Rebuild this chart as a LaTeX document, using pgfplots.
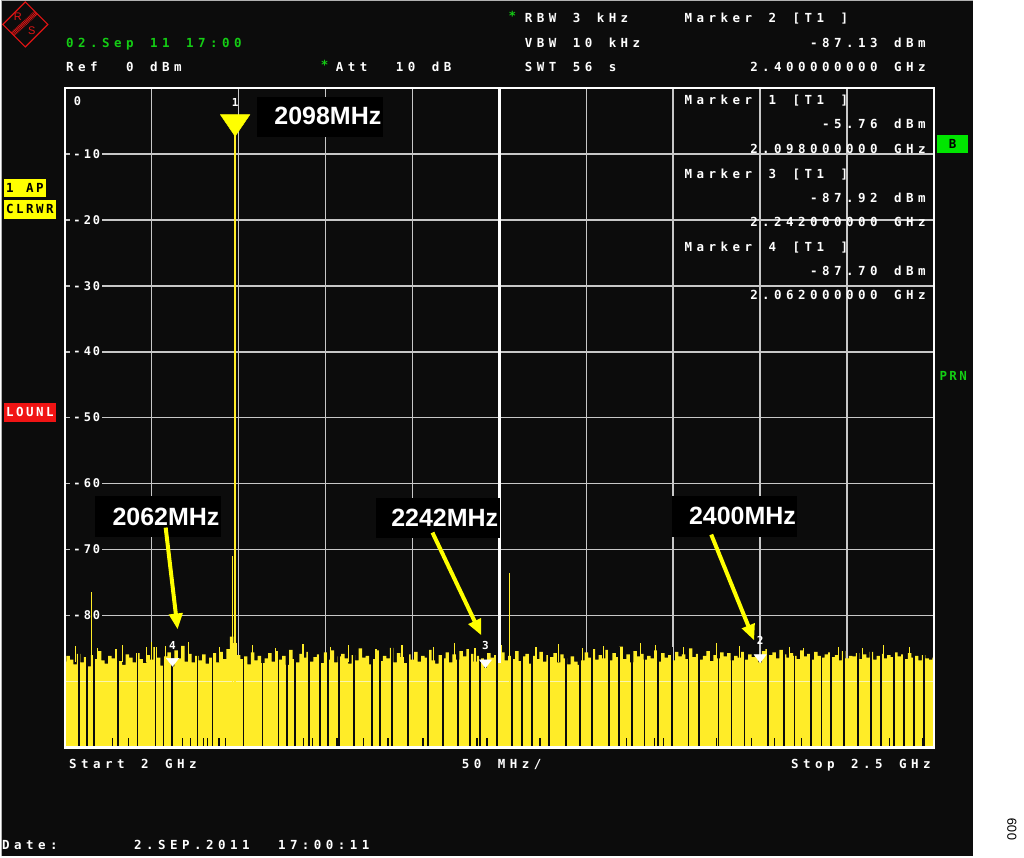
\documentclass[border=0pt]{standalone}
\usepackage{pgfplots}
\pgfplotsset{compat=1.18}
\usepackage{fontspec}
\setmainfont{Liberation Sans}
\usetikzlibrary{arrows.meta}
\newfontfamily\instr{DejaVu Sans Mono Bold}
\newfontfamily\labf{Liberation Sans Bold}
\definecolor{bg}{RGB}{12,12,12}
\definecolor{trace}{RGB}{255,236,40}
\definecolor{ann}{RGB}{255,255,0}
\definecolor{grn}{RGB}{20,205,20}
\definecolor{bgrn}{RGB}{0,230,0}
\definecolor{gridc}{RGB}{200,200,200}
\definecolor{rsred}{RGB}{225,20,20}
\definecolor{faint}{RGB}{250,245,175}
\definecolor{lred}{RGB}{240,20,20}
\makeatletter
\newcommand\mono[2]{\def\@cw{#1}\@tfor\@c:=#2\do{\makebox[\@cw][c]{\@c}}}
\makeatother
\tikzset{
  it/.style={font=\instr\fontsize{12.5}{15}\selectfont, text=white, inner sep=0pt, text height=9pt, text depth=0pt},
  tl/.style={font=\instr\fontsize{12}{14}\selectfont, text=white, fill=bg, inner xsep=1pt, inner ysep=2pt, text height=8.5pt, text depth=0pt, anchor=west},
  lab/.style={font=\labf\fontsize{25}{28}\selectfont, text=white, inner sep=0pt, anchor=east},
  mk/.style={font=\instr\fontsize{11}{13}\selectfont, text=white, inner sep=0pt},
}
\begin{document}
\begin{tikzpicture}[x=1pt,y=1pt]
\fill[white] (0,0) rectangle (1024,857);
\fill[bg] (0,0) rectangle (973,857);
\draw[gray!60, line width=1.5pt] (0.75,0) -- (0.75,856.25) -- (973,856.25);
% R&S logo
\draw[rsred, line width=1.1pt] (24.5,855) -- (47,832.5) -- (24.5,810) -- (2,832.5) -- cycle;
\draw[rsred, line width=5pt, dash pattern=on 0.8pt off 0.8pt] (12,823) -- (35,844);
\node[rsred, font=\fontsize{11}{12}\selectfont, inner sep=0] at (17,840) {R};
\node[rsred, font=\fontsize{11}{12}\selectfont, inner sep=0] at (31,826) {S};

\begin{axis}[at={(64pt,109pt)}, anchor=south west, width=870pt, height=660pt, scale only axis,
  xmin=2000, xmax=2500, ymin=-100, ymax=0,
  xtick={2000,2050,...,2500}, ytick={-100,-90,...,0},
  xticklabels={}, yticklabels={}, tick style={draw=none},
  grid=major, major grid style={draw=gridc, line width=1.6pt},
  axis line style={draw=none}, clip=false, unbounded coords=jump]
\draw[white, line width=2.2pt] (axis cs:2250,-100) -- (axis cs:2250,0);
% tick labels
\node[tl] at (axis cs:2000,-10) [xshift=5pt] {\makebox[12pt]{-}\mono{9pt}{10}};
\node[tl] at (axis cs:2000,-20) [xshift=5pt] {\makebox[12pt]{-}\mono{9pt}{20}};
\node[tl] at (axis cs:2000,-30) [xshift=5pt] {\makebox[12pt]{-}\mono{9pt}{30}};
\node[tl] at (axis cs:2000,-40) [xshift=5pt] {\makebox[12pt]{-}\mono{9pt}{40}};
\node[tl] at (axis cs:2000,-50) [xshift=5pt] {\makebox[12pt]{-}\mono{9pt}{50}};
\node[tl] at (axis cs:2000,-60) [xshift=5pt] {\makebox[12pt]{-}\mono{9pt}{60}};
\node[tl] at (axis cs:2000,-70) [xshift=5pt] {\makebox[12pt]{-}\mono{9pt}{70}};
\node[tl] at (axis cs:2000,-80) [xshift=5pt] {\makebox[12pt]{-}\mono{9pt}{80}};
\node[tl, anchor=north west, fill=none] at (axis cs:2000,0) [xshift=7pt, yshift=-7pt] {\mono{9pt}{0}};

% noise floor (max envelope)
\addplot[draw=none, fill=trace, const plot mark mid, mark=none] coordinates {
(2000,-100)
(2000,-87.0)(2002,-86.1)(2004,-86.7)(2006,-87.4)(2008,-85.8)(2010,-87.1)(2012,-86.3)(2014,-87.7)(2016,-86.0)(2018,-86.6)
(2020,-85.4)(2022,-86.8)(2024,-87.3)(2026,-86.1)(2028,-86.5)(2030,-85.1)(2032,-86.9)(2034,-87.5)(2036,-85.9)(2038,-86.4)
(2040,-87.1)(2042,-85.7)(2044,-86.6)(2046,-87.2)(2048,-86.0)(2050,-86.7)(2052,-84.8)(2054,-86.4)(2056,-87.6)(2058,-86.2)
(2060,-85.6)(2062,-87.7)(2064,-85.3)(2066,-86.5)(2068,-84.6)(2070,-87.0)(2072,-85.8)(2074,-87.1)(2076,-86.1)(2078,-86.8)
(2080,-85.9)(2082,-87.3)(2084,-86.4)(2086,-85.7)(2088,-87.1)(2090,-85.5)(2092,-86.6)(2094,-85.1)(2096,-83.2)(2098,-84.2)
(2100,-86.0)(2102,-86.6)(2104,-86.2)(2106,-87.4)(2108,-85.6)(2110,-86.8)(2112,-86.1)(2114,-87.2)(2116,-86.5)(2118,-85.7)
(2120,-87.0)(2122,-85.4)(2124,-86.7)(2126,-86.1)(2128,-87.5)(2130,-85.2)(2132,-86.6)(2134,-87.1)(2136,-85.8)(2138,-86.4)
(2140,-85.5)(2142,-87.0)(2144,-86.3)(2146,-85.9)(2148,-87.2)(2150,-85.6)(2152,-86.7)(2154,-85.3)(2156,-87.1)(2158,-86.2)
(2160,-85.8)(2162,-86.5)(2164,-87.3)(2166,-86.0)(2168,-86.8)(2170,-85.0)(2172,-86.4)(2174,-86.1)(2176,-87.4)(2178,-86.6)
(2180,-85.3)(2182,-86.9)(2184,-86.1)(2186,-86.5)(2188,-84.9)(2190,-87.1)(2192,-85.7)(2194,-86.3)(2196,-87.2)(2198,-85.9)
(2200,-86.7)(2202,-85.5)(2204,-87.0)(2206,-86.1)(2208,-86.4)(2210,-85.2)(2212,-86.8)(2214,-87.3)(2216,-86.0)(2218,-86.5)
(2220,-85.6)(2222,-87.1)(2224,-85.9)(2226,-86.7)(2228,-85.4)(2230,-86.2)(2232,-85.1)(2234,-85.8)(2236,-87.0)(2238,-86.1)
(2240,-86.5)(2242,-87.9)(2244,-85.7)(2246,-86.4)(2248,-86.0)(2250,-87.2)(2252,-85.6)(2254,-86.8)(2256,-86.1)(2258,-86.6)
(2260,-85.4)(2262,-86.9)(2264,-86.2)(2266,-85.8)(2268,-87.3)(2270,-86.1)(2272,-86.6)(2274,-85.5)(2276,-87.0)(2278,-86.0)
(2280,-86.3)(2282,-85.7)(2284,-87.1)(2286,-85.9)(2288,-86.5)(2290,-87.4)(2292,-86.2)(2294,-87.0)(2296,-87.5)(2298,-86.8)
(2300,-85.6)(2302,-86.4)(2304,-85.1)(2306,-86.7)(2308,-86.0)(2310,-86.5)(2312,-85.2)(2314,-86.8)(2316,-85.7)(2318,-86.3)
(2320,-84.7)(2322,-86.6)(2324,-85.9)(2326,-87.1)(2328,-85.4)(2330,-86.2)(2332,-85.8)(2334,-86.7)(2336,-86.1)(2338,-86.5)
(2340,-85.3)(2342,-87.0)(2344,-85.7)(2346,-86.4)(2348,-86.0)(2350,-86.8)(2352,-85.5)(2354,-86.2)(2356,-85.9)(2358,-86.6)
(2360,-85.0)(2362,-86.3)(2364,-85.8)(2366,-86.7)(2368,-86.1)(2370,-85.4)(2372,-86.9)(2374,-86.0)(2376,-86.5)(2378,-85.6)
(2380,-86.2)(2382,-85.7)(2384,-86.8)(2386,-86.1)(2388,-86.4)(2390,-85.5)(2392,-86.7)(2394,-85.9)(2396,-86.3)(2398,-86.0)
(2400,-87.1)(2402,-85.4)(2404,-85.1)(2406,-86.0)(2408,-85.6)(2410,-86.5)(2412,-85.2)(2414,-85.9)(2416,-86.4)(2418,-85.7)
(2420,-86.1)(2422,-86.6)(2424,-85.3)(2426,-86.2)(2428,-85.8)(2430,-86.7)(2432,-85.5)(2434,-86.1)(2436,-86.4)(2438,-85.9)
(2440,-85.6)(2442,-86.3)(2444,-86.0)(2446,-86.8)(2448,-85.4)(2450,-86.5)(2452,-86.1)(2454,-86.2)(2456,-85.7)(2458,-86.6)
(2460,-85.9)(2462,-86.4)(2464,-85.5)(2466,-86.7)(2468,-86.1)(2470,-85.8)(2472,-86.5)(2474,-86.0)(2476,-86.3)(2478,-85.6)
(2480,-86.2)(2482,-85.9)(2484,-86.6)(2486,-85.7)(2488,-86.4)(2490,-86.1)(2492,-86.8)(2494,-86.0)(2496,-86.5)(2498,-86.7)
(2500,-86.4)(2500,-100)};

% thin noise spikes
\addplot[trace, line width=1.2pt, mark=none] coordinates {
(2006,-87)(2006,-84.6)(2006,nan) (2019,-87)(2019,-84.9)(2019,nan) (2033,-87)(2033,-84.4)(2033,nan)
(2047,-87)(2047,-84.7)(2047,nan) (2050,-87)(2050,-84.0)(2050,nan) (2058,-87)(2058,-84.6)(2058,nan)
(2071,-87)(2071,-84.0)(2071,nan) (2089,-87)(2089,-84.8)(2089,nan) (2108,-87)(2108,-84.5)(2108,nan)
(2121,-87)(2121,-85.0)(2121,nan) (2137,-87)(2137,-84.3)(2137,nan) (2153,-87)(2153,-84.8)(2153,nan)
(2163,-87)(2163,-84.5)(2163,nan) (2179,-87)(2179,-85.1)(2179,nan) (2194,-87)(2194,-84.4)(2194,nan)
(2212,-87)(2212,-84.7)(2212,nan) (2224,-87)(2224,-84.2)(2224,nan) (2236,-87)(2236,-84.9)(2236,nan)
(2251,-87)(2251,-84.5)(2251,nan) (2271,-87)(2271,-84.8)(2271,nan) (2284,-87)(2284,-84.3)(2284,nan)
(2298,-87)(2298,-85.0)(2298,nan) (2310,-87)(2310,-84.6)(2310,nan) (2331,-87)(2331,-84.2)(2331,nan)
(2340,-87)(2340,-84.5)(2340,nan) (2356,-87)(2356,-84.8)(2356,nan) (2375,-87)(2375,-84.1)(2375,nan)
(2388,-87)(2388,-84.6)(2388,nan) (2417,-87)(2417,-84.8)(2417,nan) (2425,-87)(2425,-84.9)(2425,nan)
(2445,-87)(2445,-84.7)(2445,nan) (2459,-87)(2459,-84.9)(2459,nan) (2471,-87)(2471,-84.5)(2471,nan)
(2486,-87)(2486,-84.8)};

\draw[faint, line width=1pt] (axis cs:2000,-90) -- (axis cs:2500,-90);

% dips to the bottom (black columns)
\addplot[draw=bg, line width=1.8pt, mark=none] coordinates {
(2008.0,-100)(2008.0,-84.8)(2008.0,nan) (2012.6,-100)(2012.6,-84.8)(2012.6,nan) (2016.6,-100)(2016.6,-84.8)(2016.6,nan)
(2030.4,-100)(2030.4,-84.8)(2030.4,nan) (2041.9,-100)(2041.9,-84.8)(2041.9,nan) (2052.2,-100)(2052.2,-84.8)(2052.2,nan)
(2056.8,-100)(2056.8,-84.8)(2056.8,nan) (2061.5,-100)(2061.5,-84.8)(2061.5,nan) (2076.4,-100)(2076.4,-84.8)(2076.4,nan)
(2085.0,-100)(2085.0,-84.8)(2085.0,nan) (2102.8,-100)(2102.8,-84.8)(2102.8,nan) (2113.7,-100)(2113.7,-84.8)(2113.7,nan)
(2122.9,-100)(2122.9,-84.8)(2122.9,nan) (2128.0,-100)(2128.0,-84.8)(2128.0,nan) (2132.6,-100)(2132.6,-84.8)(2132.6,nan)
(2140.7,-100)(2140.7,-84.8)(2140.7,nan) (2147.0,-100)(2147.0,-84.8)(2147.0,nan) (2151.6,-100)(2151.6,-84.8)(2151.6,nan)
(2157.9,-100)(2157.9,-84.8)(2157.9,nan) (2166.5,-100)(2166.5,-84.8)(2166.5,nan) (2176.8,-100)(2176.8,-84.8)(2176.8,nan)
(2181.4,-100)(2181.4,-84.8)(2181.4,nan) (2188.3,-100)(2188.3,-84.8)(2188.3,nan) (2197.5,-100)(2197.5,-84.8)(2197.5,nan)
(2209.0,-100)(2209.0,-84.8)(2209.0,nan) (2217.6,-100)(2217.6,-84.8)(2217.6,nan) (2226.2,-100)(2226.2,-84.8)(2226.2,nan)
(2233.1,-100)(2233.1,-84.8)(2233.1,nan) (2238.8,-100)(2238.8,-84.8)(2238.8,nan) (2248.6,-100)(2248.6,-84.8)(2248.6,nan)
(2257.2,-100)(2257.2,-84.8)(2257.2,nan) (2262.9,-100)(2262.9,-84.8)(2262.9,nan) (2268.7,-100)(2268.7,-84.8)(2268.7,nan)
(2278.4,-100)(2278.4,-84.8)(2278.4,nan) (2288.2,-100)(2288.2,-84.8)(2288.2,nan) (2296.2,-100)(2296.2,-84.8)(2296.2,nan)
(2303.1,-100)(2303.1,-84.8)(2303.1,nan) (2312.9,-100)(2312.9,-84.8)(2312.9,nan) (2318.6,-100)(2318.6,-84.8)(2318.6,nan)
(2326.1,-100)(2326.1,-84.8)(2326.1,nan) (2333.5,-100)(2333.5,-84.8)(2333.5,nan) (2341.0,-100)(2341.0,-84.8)(2341.0,nan)
(2349.1,-100)(2349.1,-84.8)(2349.1,nan) (2358.8,-100)(2358.8,-84.8)(2358.8,nan) (2364.6,-100)(2364.6,-84.8)(2364.6,nan)
(2376.0,-100)(2376.0,-84.8)(2376.0,nan) (2383.5,-100)(2383.5,-84.8)(2383.5,nan) (2391.0,-100)(2391.0,-84.8)(2391.0,nan)
(2404.7,-100)(2404.7,-84.8)(2404.7,nan) (2413.9,-100)(2413.9,-84.8)(2413.9,nan) (2419.7,-100)(2419.7,-84.8)(2419.7,nan)
(2429.4,-100)(2429.4,-84.8)(2429.4,nan) (2435.2,-100)(2435.2,-84.8)(2435.2,nan) (2440.9,-100)(2440.9,-84.8)(2440.9,nan)
(2448.4,-100)(2448.4,-84.8)(2448.4,nan) (2456.4,-100)(2456.4,-84.8)(2456.4,nan) (2463.9,-100)(2463.9,-84.8)(2463.9,nan)
(2469.6,-100)(2469.6,-84.8)(2469.6,nan) (2477.1,-100)(2477.1,-84.8)(2477.1,nan) (2482.8,-100)(2482.8,-84.8)(2482.8,nan)
(2488.6,-100)(2488.6,-84.8)(2488.6,nan) (2494.3,-100)(2494.3,-84.8)};

% short dips near the bottom
\addplot[draw=bg, line width=1.4pt, mark=none] coordinates {
(2027.6,-100)(2027.6,-98.6)(2027.6,nan) (2036.7,-100)(2036.7,-98.6)(2036.7,nan) (2067.7,-100)(2067.7,-98.6)(2067.7,nan)
(2072.3,-100)(2072.3,-98.6)(2072.3,nan) (2079.9,-100)(2079.9,-98.6)(2079.9,nan) (2082.1,-100)(2082.1,-98.6)(2082.1,nan)
(2088.7,-100)(2088.7,-98.6)(2088.7,nan) (2092.4,-100)(2092.4,-98.6)(2092.4,nan) (2137.2,-100)(2137.2,-98.6)(2137.2,nan)
(2142.4,-100)(2142.4,-98.6)(2142.4,nan) (2156.7,-100)(2156.7,-98.6)(2156.7,nan) (2171.7,-100)(2171.7,-98.6)(2171.7,nan)
(2186.0,-100)(2186.0,-98.6)(2186.0,nan) (2206.1,-100)(2206.1,-98.6)(2206.1,nan) (2237.1,-100)(2237.1,-98.6)(2237.1,nan)
(2242.8,-100)(2242.8,-98.6)(2242.8,nan) (2273.3,-100)(2273.3,-98.6)(2273.3,nan) (2323.2,-100)(2323.2,-98.6)(2323.2,nan)
(2339.3,-100)(2339.3,-98.6)(2339.3,nan) (2344.5,-100)(2344.5,-98.6)(2344.5,nan) (2374.9,-100)(2374.9,-98.6)(2374.9,nan)
(2395.0,-100)(2395.0,-98.6)(2395.0,nan) (2408.2,-100)(2408.2,-98.6)(2408.2,nan) (2423.7,-100)(2423.7,-98.6)(2423.7,nan)
(2474.2,-100)(2474.2,-98.6)(2474.2,nan) (2493.7,-100)(2493.7,-98.6)};

% carrier and spurs
\addplot[trace, line width=1.3pt, mark=none] coordinates {
(2015.5,-100)(2015.5,-76.4)(2015.5,nan) (2096.6,-100)(2096.6,-71.0)(2096.6,nan) (2256.0,-100)(2256.0,-73.6)};
\addplot[trace, line width=2.4pt, mark=none] coordinates {(2098,-100)(2098,-5.76)};

% markers
\addplot[only marks, mark=triangle*, mark size=7pt, mark options={draw=white, fill=white, yshift=5.25pt, rotate=180, yscale=0.75}] coordinates {(2062,-87.70)(2242,-87.92)(2400,-87.13)};
\addplot[only marks, mark=triangle*, mark size=17pt, mark options={draw=ann, fill=ann, yshift=4pt, rotate=180, yscale=0.85}] coordinates {(2098,-5.76)};
\node[mk] at (axis cs:2098,-5.76) [yshift=23pt] {1};
\node[mk] at (axis cs:2062,-87.70) [yshift=21pt] {4};
\node[mk] at (axis cs:2242,-87.92) [yshift=22pt] {3};
\node[mk] at (axis cs:2400,-87.13) [yshift=22pt] {2};

\draw[white, line width=2.2pt] (rel axis cs:0,0) rectangle (rel axis cs:1,1);
\end{axis}

% header
\node[it, anchor=west] at (508,841) {\textcolor{grn}{*}};
\node[it, anchor=west] at (522,839) {\mono{12pt}{RBW~3~kHz}};
\node[it, anchor=west] at (522,814) {\mono{12pt}{VBW~10~kHz}};
\node[it, anchor=west] at (522,790) {\mono{12pt}{SWT~56~s}};
\node[it, anchor=west] at (682,839) {\mono{12pt}{Marker~2~[T1~]}};
\node[it, anchor=east] at (928,814) {\mono{12pt}{-87.13~dBm}};
\node[it, anchor=east] at (928,790) {\mono{12pt}{2.400000000~GHz}};
\node[it, anchor=west, text=grn] at (63,814) {\mono{12pt}{02.Sep~11~17:00}};
\node[it, anchor=west] at (63,790) {\mono{12pt}{Ref~~0~dBm}};
\node[it, anchor=west] at (320,792) {\textcolor{grn}{*}};
\node[it, anchor=west] at (333,790) {\mono{12pt}{Att~~10~dB}};

% marker table inside the diagram
\node[it, anchor=west] at (682,757) {\mono{12pt}{Marker~1~[T1~]}};
\node[it, anchor=east] at (928,733) {\mono{12pt}{-5.76~dBm}};
\node[it, anchor=east] at (928,708) {\mono{12pt}{2.098000000~GHz}};
\node[it, anchor=west] at (682,683) {\mono{12pt}{Marker~3~[T1~]}};
\node[it, anchor=east] at (928,659) {\mono{12pt}{-87.92~dBm}};
\node[it, anchor=east] at (928,635) {\mono{12pt}{2.242000000~GHz}};
\node[it, anchor=west] at (682,610) {\mono{12pt}{Marker~4~[T1~]}};
\node[it, anchor=east] at (928,586) {\mono{12pt}{-87.70~dBm}};
\node[it, anchor=east] at (928,562) {\mono{12pt}{2.062000000~GHz}};

% side labels
\fill[ann] (3,660) rectangle (45,678);
\node[it, anchor=west, text=black] at (4,669) {\mono{10pt}{1~AP}};
\fill[ann] (3,638) rectangle (55,657);
\node[it, anchor=west, text=black] at (4,647.5) {\mono{10pt}{CLRWR}};
\fill[lred] (3,435) rectangle (55,454);
\node[it, anchor=west, text=white] at (4,444.5) {\mono{10pt}{LOUNL}};
\fill[bgrn] (937,704) rectangle (968,722);
\node[it, text=black] at (952.5,713) {B};
\node[it, anchor=west, text=grn] at (938,481) {\mono{10pt}{PRN}};

% footer
\node[it, anchor=west] at (66,92) {\mono{12pt}{Start~2~GHz}};
\node[it, anchor=west] at (459,92) {\mono{12pt}{50~MHz/}};
\node[it, anchor=east] at (933,92) {\mono{12pt}{Stop~2.5~GHz}};
\node[it, anchor=west] at (-1,11) {\mono{12pt}{Date:}};
\node[it, anchor=west] at (131,11) {\mono{12pt}{2.SEP.2011~~17:00:11}};

% annotations
\fill[black] (256,720) rectangle (382,760);
\node[lab] at (381,741) {2098MHz};
\fill[black] (94,320) rectangle (220,361);
\node[lab] at (219,340) {2062MHz};
\fill[black] (375,319) rectangle (500,359);
\node[lab] at (498,339) {2242MHz};
\fill[black] (672,320) rectangle (797,361);
\node[lab] at (796,341) {2400MHz};
\draw[ann, line width=4pt, -{Triangle[length=16pt, width=13pt]}] (165,329) -- (177,227);
\draw[ann, line width=4pt, -{Triangle[length=16pt, width=13pt]}] (432,324) -- (481,221);
\draw[ann, line width=4pt, -{Triangle[length=16pt, width=13pt]}] (711,322) -- (754,216);

\node[rotate=90, font=\fontsize{13}{15}\selectfont, text=black, inner sep=0] at (1012,27) {009};
\end{tikzpicture}
\end{document}
